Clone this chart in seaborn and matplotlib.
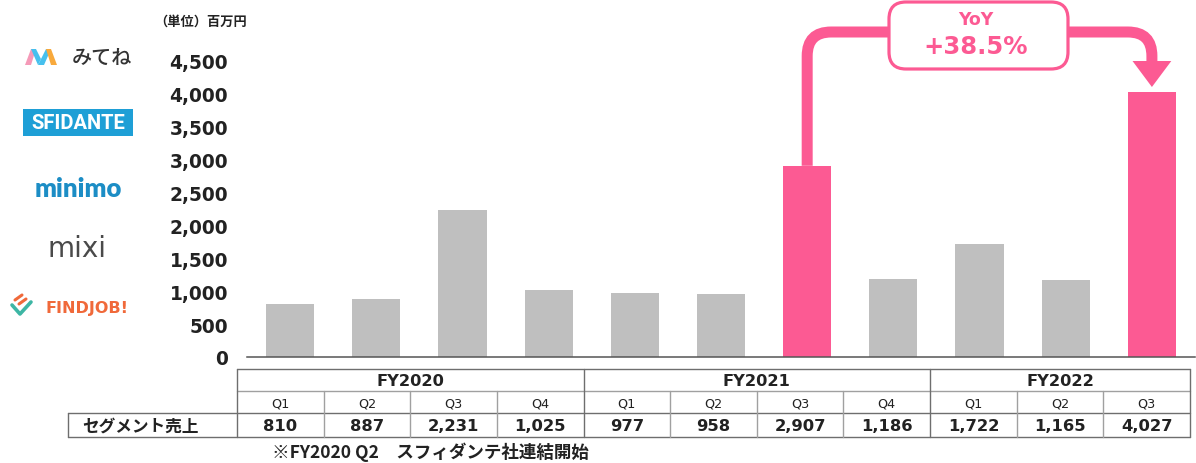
import numpy as np
import pandas as pd
import matplotlib
matplotlib.use("Agg")
import matplotlib.pyplot as plt
import seaborn as sns
from matplotlib.path import Path
from matplotlib.patches import PathPatch, FancyBboxPatch, Polygon, Rectangle
from matplotlib.lines import Line2D
from matplotlib.transforms import IdentityTransform

# ---------------- data ----------------
fiscal_years = ["FY2020", "FY2021", "FY2022"]
quarters_per_year = [4, 4, 3]
quarters = ["Q1", "Q2", "Q3", "Q4", "Q1", "Q2", "Q3", "Q4", "Q1", "Q2", "Q3"]
periods = ["FY2020 Q1", "FY2020 Q2", "FY2020 Q3", "FY2020 Q4",
           "FY2021 Q1", "FY2021 Q2", "FY2021 Q3", "FY2021 Q4",
           "FY2022 Q1", "FY2022 Q2", "FY2022 Q3"]
sales = [810, 887, 2231, 1025, 977, 958, 2907, 1186, 1722, 1165, 4027]
highlight = ["FY2021 Q3", "FY2022 Q3"]
yoy_text = "+38.5%"
row_label = "セグメント売上"
unit_label = "（単位）百万円"
footnote = "※FY2020 Q2　スフィダンテ社連結開始"
y_ticks = [0, 500, 1000, 1500, 2000, 2500, 3000, 3500, 4000, 4500]

PINK = "#FC5A93"
GRAY = "#BFBFBF"
TXT = "#222222"
JP = ["Noto Sans CJK JP", "DejaVu Sans"]

sns.set_theme(style="white")
plt.rcParams["font.family"] = ["DejaVu Sans", "Noto Sans CJK JP"]

W, H = 1196, 464
fig = plt.figure(figsize=(W / 100, H / 100), dpi=100)


def fx(x):
    return x / W


def fy(y):
    return 1 - y / H


# axes: baseline at y=358px, 4500 at y=62px
px_per_unit = (358 - 62) / 4500.0
ymax = 5200
top_px = 358 - ymax * px_per_unit
ax = fig.add_axes([fx(247), fy(358), fx(1195) - fx(247), (358 - top_px) / H])

df = pd.DataFrame({"period": periods, "sales": sales})
colors = {p: (PINK if p in highlight else GRAY) for p in periods}
sns.barplot(data=df, x="period", y="sales", hue="period", palette=colors,
            order=periods, width=0.56, legend=False, ax=ax, saturation=1,
            edgecolor="none")

ax.set_xlim(-0.5, len(periods) - 0.5)
ax.set_ylim(0, ymax)
ax.set_yticks(y_ticks)
ax.set_yticklabels([f"{v:,}" for v in y_ticks], fontsize=13.4,
                   fontweight="bold", color=TXT)
ax.tick_params(axis="y", length=0, pad=13.5)
ax.set_xticks([])
ax.set_xlabel("")
ax.set_ylabel("")
for s in ["top", "right", "left"]:
    ax.spines[s].set_visible(False)
ax.spines["bottom"].set_color("#555555")
ax.spines["bottom"].set_linewidth(1.1)
ax.grid(False)
ax.set_facecolor("none")

# ---------------- YoY callout ----------------
i0 = periods.index(highlight[0])
i1 = periods.index(highlight[1])
v0 = sales[i0]
v1 = sales[i1]
lvl = (358 - 33) / px_per_unit          # connector level
rx = 24 / 86.2                          # corner radius in x units
ry = 24 / px_per_unit                   # corner radius in y units
lw = 11 * 0.72
box_l_x = (889 - 290) / 86.2
box_r_x = (1068 - 290) / 86.2
arrow_base = (358 - 62) / px_per_unit
arrow_tip = (358 - 88) / px_per_unit

left_path = Path([(i0, v0), (i0, lvl - ry), (i0, lvl), (i0 + rx, lvl), (box_l_x + 0.3, lvl)],
                 [Path.MOVETO, Path.LINETO, Path.CURVE3, Path.CURVE3, Path.LINETO])
right_path = Path([(box_r_x - 0.3, lvl), (i1 - rx, lvl), (i1, lvl), (i1, lvl - ry), (i1, arrow_base - 30)],
                  [Path.MOVETO, Path.LINETO, Path.CURVE3, Path.CURVE3, Path.LINETO])
for p in (left_path, right_path):
    ax.add_patch(PathPatch(p, facecolor="none", edgecolor=PINK, lw=lw,
                           capstyle="butt", joinstyle="miter", clip_on=False, zorder=5))
ax.add_patch(Polygon([(i1 - 0.225, arrow_base), (i1 + 0.225, arrow_base), (i1, arrow_tip)],
                     closed=True, facecolor=PINK, edgecolor="none", clip_on=False, zorder=5))

box = FancyBboxPatch((889, H - 70), 1068 - 889, 67,
                     boxstyle="round,pad=0,rounding_size=17",
                     transform=IdentityTransform(), facecolor="white",
                     edgecolor=PINK, lw=2.3, zorder=6)
fig.add_artist(box)
fig.text(fx(976), fy(20), "YoY", color=PINK, fontsize=12.5, ha="center", va="center",
         fontweight="bold", zorder=7)
fig.text(fx(976), fy(47), yoy_text, color=PINK, fontsize=17.5, ha="center", va="center",
         fontweight="bold", zorder=7)

# ---------------- table ----------------
col_w = (1190 - 237) / len(periods)
xs = [237 + k * col_w for k in range(len(periods) + 1)]
r0, r1, r2, r3 = 370, 392, 414, 438
LC_OUT = "#6E6E6E"
LC_IN = "#A0A0A0"


def hline(x0, x1, y, c=LC_OUT, w=1.0):
    fig.add_artist(Line2D([fx(x0), fx(x1)], [fy(y), fy(y)], color=c, lw=w,
                          transform=fig.transFigure))


def vline(x, y0, y1, c=LC_OUT, w=1.0):
    fig.add_artist(Line2D([fx(x), fx(x)], [fy(y0), fy(y1)], color=c, lw=w,
                          transform=fig.transFigure))


hline(xs[0], xs[-1], r0)
hline(xs[0], xs[-1], r1, LC_IN)
hline(68, xs[-1], r2, LC_OUT)
hline(68, xs[-1], r3, LC_OUT)
vline(68, r2, r3)
vline(xs[0], r0, r3)
vline(xs[-1], r0, r3)

start = 0
for fyname, n in zip(fiscal_years, quarters_per_year):
    xa, xb = xs[start], xs[start + n]
    fig.text(fx((xa + xb) / 2), fy((r0 + r1) / 2 + 1), fyname, ha="center", va="center",
             fontsize=11.7, fontweight="bold", color=TXT)
    if start + n < len(periods):
        vline(xb, r0, r3, LC_OUT)
    for k in range(start, start + n):
        if k > start:
            vline(xs[k], r1, r3, LC_IN)
    start += n

for k, (q, v) in enumerate(zip(quarters, sales)):
    cx = (xs[k] + xs[k + 1]) / 2
    fig.text(fx(cx), fy((r1 + r2) / 2 + 1), q, ha="center", va="center",
             fontsize=9.2, color=TXT)
    fig.text(fx(cx), fy((r2 + r3) / 2 + 1), f"{v:,}", ha="center", va="center",
             fontsize=11.8, fontweight="bold", color=TXT)

fig.text(fx(82), fy((r2 + r3) / 2 + 1), row_label, ha="left", va="center",
         fontsize=12, fontweight="bold", color=TXT, family=JP)
fig.text(fx(272), fy(452), footnote, ha="left", va="center",
         fontsize=12.6, fontweight="bold", color=TXT, family=JP)
fig.text(fx(247), fy(22), unit_label, ha="right", va="center",
         fontsize=9.5, fontweight="bold", color=TXT, family=JP)

# ---------------- logos (decorative) ----------------
def pxpoly(pts, color):
    fig.add_artist(Polygon([(fx(x), fy(y)) for x, y in pts], closed=True,
                           facecolor=color, edgecolor="none", transform=fig.transFigure))

# mitene icon
pxpoly([(25, 66), (31, 50), (36, 50), (31, 66)], "#F59AB8")
pxpoly([(31, 50), (36, 50), (41, 60), (38, 66)], "#46C0EE")
pxpoly([(41, 60), (46, 50), (51, 50), (44, 66), (38, 66)], "#46C0EE")
pxpoly([(46, 50), (51, 50), (57, 66), (51, 66)], "#F8A93C")
fig.text(fx(72), fy(58), "みてね", ha="left", va="center", fontsize=14.5,
         color="#333333", family=JP, fontweight="medium")

# SFIDANTE
fig.add_artist(Rectangle((fx(23), fy(137)), fx(133) - fx(23), fy(110) - fy(137),
                         facecolor="#1E9FD6", edgecolor="none", transform=fig.transFigure))
fig.text(fx(78), fy(124), "SFIDANTE", ha="center", va="center", fontsize=14.5,
         color="white", fontweight="bold", family=["Roboto", "DejaVu Sans"])

# minimo
fig.text(fx(78), fy(189), "minimo", ha="center", va="center", fontsize=18.5,
         color="#1C8DC5", fontweight="heavy", family=["Lato", "DejaVu Sans"])

# mixi
fig.text(fx(77), fy(249), "mixi", ha="center", va="center", fontsize=20,
         color="#4A4A4A", family=["DejaVu Sans"], fontweight="normal")

# FINDJOB!
fig.add_artist(Line2D([fx(12), fx(20), fx(31)], [fy(306), fy(315), fy(303)],
                      color="#3DB6A4", lw=2.6, transform=fig.transFigure))
fig.add_artist(Line2D([fx(15), fx(22)], [fy(301), fy(296)], color="#F0693A", lw=2.2,
                      transform=fig.transFigure))
fig.add_artist(Line2D([fx(19), fx(26)], [fy(305), fy(300)], color="#F0693A", lw=2.2,
                      transform=fig.transFigure))
fig.text(fx(87), fy(309), "FINDJOB!", ha="center", va="center", fontsize=11.5,
         color="#F0693A", fontweight="bold", family=["DejaVu Sans"])

fig.savefig("out.png", dpi=100)
